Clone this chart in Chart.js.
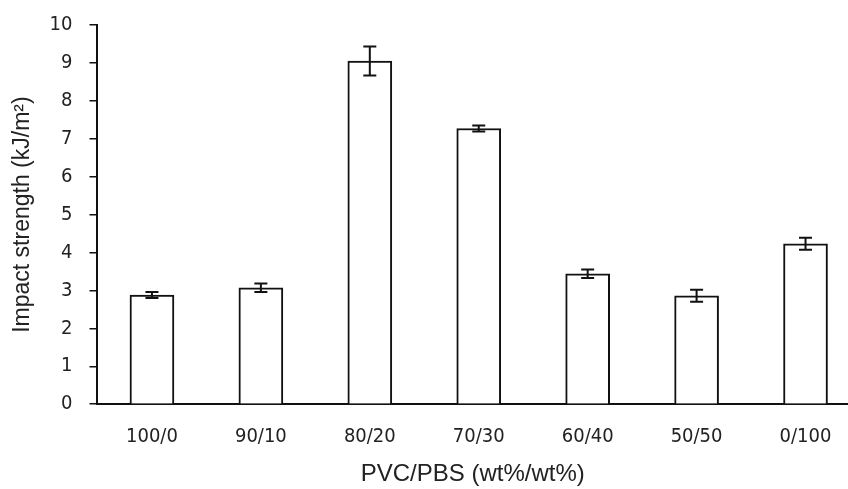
<!DOCTYPE html>
<html>
<head>
<meta charset="utf-8">
<script src="https://cdn.jsdelivr.net/npm/chart.js@4.4.1/dist/chart.umd.min.js"></script>
<style>
  body { margin: 0; background: #fff; }
  canvas { display: block; }
</style>
</head>
<body>
<canvas id="chart" width="848" height="489"></canvas>
<script>
// Blend ratios and measured impact strength (kJ/m2)
const blends = ['100/0', '90/10', '80/20', '70/30', '60/40', '50/50', '0/100'];
const impact = [2.88, 3.07, 9.05, 7.27, 3.44, 2.86, 4.23];
const impactErr = [0.08, 0.11, 0.38, 0.08, 0.11, 0.16, 0.16];
const yTicks = [0, 1, 2, 3, 4, 5, 6, 7, 8, 9, 10];

// draw the error bars on top of the bars
const errorBars = {
    id: 'errorBars',
    afterDatasetsDraw(chart) {
        const { ctx, scales: { x, y } } = chart;
        ctx.save();
        ctx.strokeStyle = '#111';
        ctx.lineWidth = 2;
        impact.forEach((v, i) => {
            const px = x.getPixelForValue(i);
            const top = y.getPixelForValue(v + impactErr[i]);
            const bot = y.getPixelForValue(v - impactErr[i]);
            ctx.beginPath();
            ctx.moveTo(px, top);
            ctx.lineTo(px, bot);
            ctx.moveTo(px - 6.5, top);
            ctx.lineTo(px + 6.5, top);
            ctx.moveTo(px - 6.5, bot);
            ctx.lineTo(px + 6.5, bot);
            ctx.stroke();
        });
        ctx.restore();
    }
};

const tickFont = { family: '"DejaVu Sans Condensed", "DejaVu Sans"', size: 20 };

const ctx = document.getElementById('chart').getContext('2d');
new Chart(ctx, {
    type: 'bar',
    data: {
        datasets: [{
            label: 'Impact strength',
            data: impact.map((v, i) => ({ x: i, y: v })),
            backgroundColor: '#ffffff',
            borderColor: '#111',
            borderWidth: 2,
            barThickness: 44
        }]
    },
    options: {
        responsive: false,
        animation: false,
        layout: { padding: { top: 25, right: 0, left: 9, bottom: 0 } },
        plugins: {
            legend: { display: false },
            tooltip: { enabled: false }
        },
        scales: {
            x: {
                type: 'linear',
                offset: false,
                min: -0.5,
                max: 6.39,
                afterBuildTicks: scale => {
                    scale.ticks = blends.map((_, i) => ({ value: i }));
                },
                afterFit: scale => {
                    // labels sit well inside the axis, no extra side room needed
                    scale.paddingLeft = 0;
                    scale.paddingRight = 0;
                },
                grid: { display: false, drawTicks: false },
                border: { color: '#111', width: 2 },
                ticks: {
                    callback: v => blends[v],
                    color: '#222',
                    padding: 21,
                    maxRotation: 0,
                    autoSkip: false,
                    font: tickFont
                },
                title: {
                    display: true,
                    text: 'PVC/PBS (wt%/wt%)',
                    color: '#222',
                    padding: { top: -10, bottom: 0 },
                    font: { family: 'Liberation Sans', size: 24 }
                }
            },
            y: {
                min: 0,
                max: 10,
                afterBuildTicks: scale => {
                    scale.ticks = yTicks.map(v => ({ value: v }));
                },
                afterFit: scale => {
                    scale.paddingTop = 0;
                    scale.paddingBottom = 0;
                },
                grid: { drawOnChartArea: false, drawTicks: true, tickLength: 8, color: '#111', lineWidth: 1.5 },
                border: { color: '#111', width: 2 },
                ticks: {
                    color: '#222',
                    padding: 17,
                    font: tickFont
                },
                title: {
                    display: true,
                    text: 'Impact strength (kJ/m²)',
                    color: '#222',
                    padding: { top: 0, bottom: -4 },
                    font: { family: 'Liberation Sans', size: 23 }
                }
            }
        }
    },
    plugins: [errorBars]
});
</script>
</body>
</html>
